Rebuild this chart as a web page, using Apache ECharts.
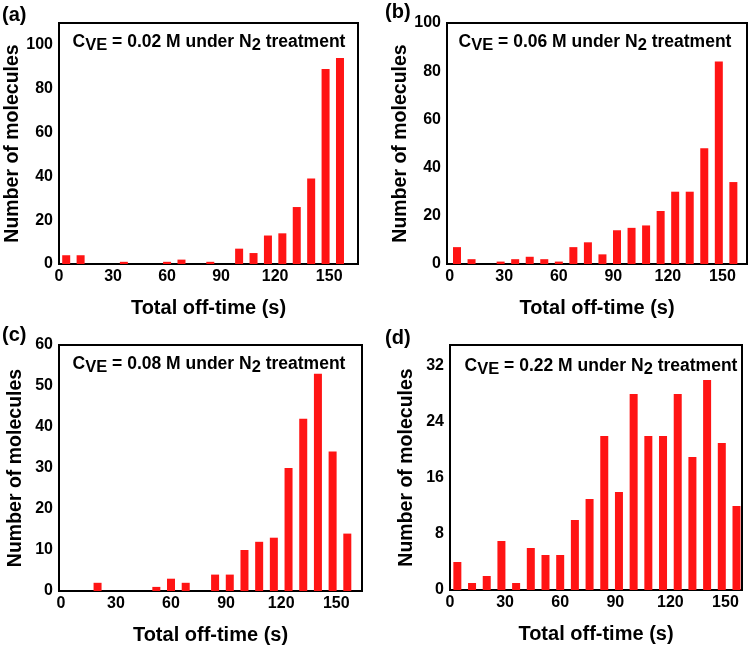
<!DOCTYPE html>
<html>
<head>
<meta charset="utf-8">
<script src="https://cdn.jsdelivr.net/npm/echarts@6/dist/echarts.min.js"></script>
<style>
html,body{margin:0;padding:0;background:#fff;}
#c{width:756px;height:647px;}
</style>
</head>
<body>
<div id="c"></div>
<script>
// Bin centres of the histograms (s)
const binCenters = [4, 12, 20, 28, 36, 44, 52, 60, 68, 76, 84, 92, 100, 108, 116, 124, 132, 140, 148, 156];
// Number of molecules in each bin
const countsA = [4, 4, 0, 0, 1, 0, 0, 1, 2, 0, 1, 0, 7, 5, 13, 14, 26, 39, 89, 94];
const countsB = [7, 2, 0, 1, 2, 3, 2, 1, 7, 9, 4, 14, 15, 16, 22, 30, 30, 48, 84, 34];
const countsC = [0, 0, 2, 0, 0, 0, 1, 3, 2, 0, 4, 4, 10, 12, 13, 30, 42, 53, 34, 14];
const countsD = [4, 1, 2, 7, 1, 6, 5, 5, 10, 13, 22, 14, 28, 22, 22, 28, 19, 30, 21, 12];
const panelLetters = ['(a)', '(b)', '(c)', '(d)'];
const concentrations = ['0.02', '0.06', '0.08', '0.22'];
const xTickStep = 30;
const yTickSteps = [20, 20, 10, 8];
const xName = 'Total off-time (s)';
const yName = 'Number of molecules';

const allCounts = [countsA, countsB, countsC, countsD];

// layout (pixels)
const grids = [
  {left: 59, top: 23, width: 299, height: 241},
  {left: 447, top: 23, width: 300, height: 241},
  {left: 59, top: 345, width: 303, height: 246},
  {left: 450, top: 345, width: 292, height: 245}
];
const xRanges = [[0, 166], [-1.5, 163.5], [-1, 164], [0, 159]];
const yMax = [110, 100, 60, 35];
const letterPos = [[2, 5], [385, 2], [2, 325], [385, 328]];
const notePos = [[209, 30], [595, 30], [209, 352], [601, 354]];

const FONT = '"Liberation Sans", Arial, Helvetica, sans-serif';
const RED = '#ff1414';

const option = {
  animation: false,
  backgroundColor: '#fff',
  grid: [], xAxis: [], yAxis: [], series: [], graphic: []
};

allCounts.forEach((counts, i) => {
  const g = grids[i];
  option.grid.push(Object.assign({show: true, borderColor: '#000', borderWidth: 2, backgroundColor: 'transparent', containLabel: false}, g));
  option.xAxis.push({
    type: 'value', gridIndex: i,
    min: xRanges[i][0], max: xRanges[i][1], interval: 0.5,
    axisLine: {show: false}, axisTick: {show: false}, splitLine: {show: false},
    axisLabel: {
      interval: 0, margin: 5, color: '#000', fontSize: 16, fontWeight: 'bold', fontFamily: FONT,
      showMinLabel: true, showMaxLabel: true,
      formatter: v => (Math.abs(v % xTickStep) < 1e-6 ? String(Math.round(v)) : '')
    },
    name: xName, nameLocation: 'middle', nameGap: 34,
    nameTextStyle: {color: '#000', fontSize: 20, fontWeight: 'bold', fontFamily: FONT}
  });
  const ys = yTickSteps[i];
  option.yAxis.push({
    type: 'value', gridIndex: i,
    min: 0, max: yMax[i], interval: ys,
    axisLine: {show: false}, axisTick: {show: false}, splitLine: {show: false},
    axisLabel: {
      margin: 6, color: '#000', fontSize: 16, fontWeight: 'bold', fontFamily: FONT,
      formatter: v => (Math.abs(v % ys) < 1e-6 ? String(Math.round(v)) : '')
    },
    name: yName, nameLocation: 'middle', nameGap: 33, nameRotate: 90,
    nameTextStyle: {color: '#000', fontSize: 19.5, fontWeight: 'bold', fontFamily: FONT}
  });
  option.series.push({
    type: 'bar', xAxisIndex: i, yAxisIndex: i,
    barWidth: 8,
    itemStyle: {color: RED, borderWidth: 0},
    data: binCenters.map((x, k) => [x, counts[k]])
  });
  option.graphic.push({
    type: 'text', left: letterPos[i][0], top: letterPos[i][1], z: 10,
    style: {text: panelLetters[i], font: 'bold 20px ' + FONT, fill: '#000'}
  });
  option.graphic.push({
    type: 'text', x: notePos[i][0], y: notePos[i][1], z: 10,
    style: {
      text: '{m|C}{s|VE}{m| = ' + concentrations[i] + ' M under N}{s|2}{m| treatment}',
      textAlign: 'center', textVerticalAlign: 'top',
      rich: {
        m: {fontSize: 17.5, fontWeight: 'bold', fontFamily: FONT, fill: '#000', color: '#000', lineHeight: 24, verticalAlign: 'middle'},
        s: {fontSize: 16.5, fontWeight: 'bold', fontFamily: FONT, fill: '#000', color: '#000', lineHeight: 14, verticalAlign: 'bottom'}
      }
    }
  });
});

const chart = echarts.init(document.getElementById('c'), null, {renderer: 'canvas'});
chart.setOption(option);
</script>
</body>
</html>
